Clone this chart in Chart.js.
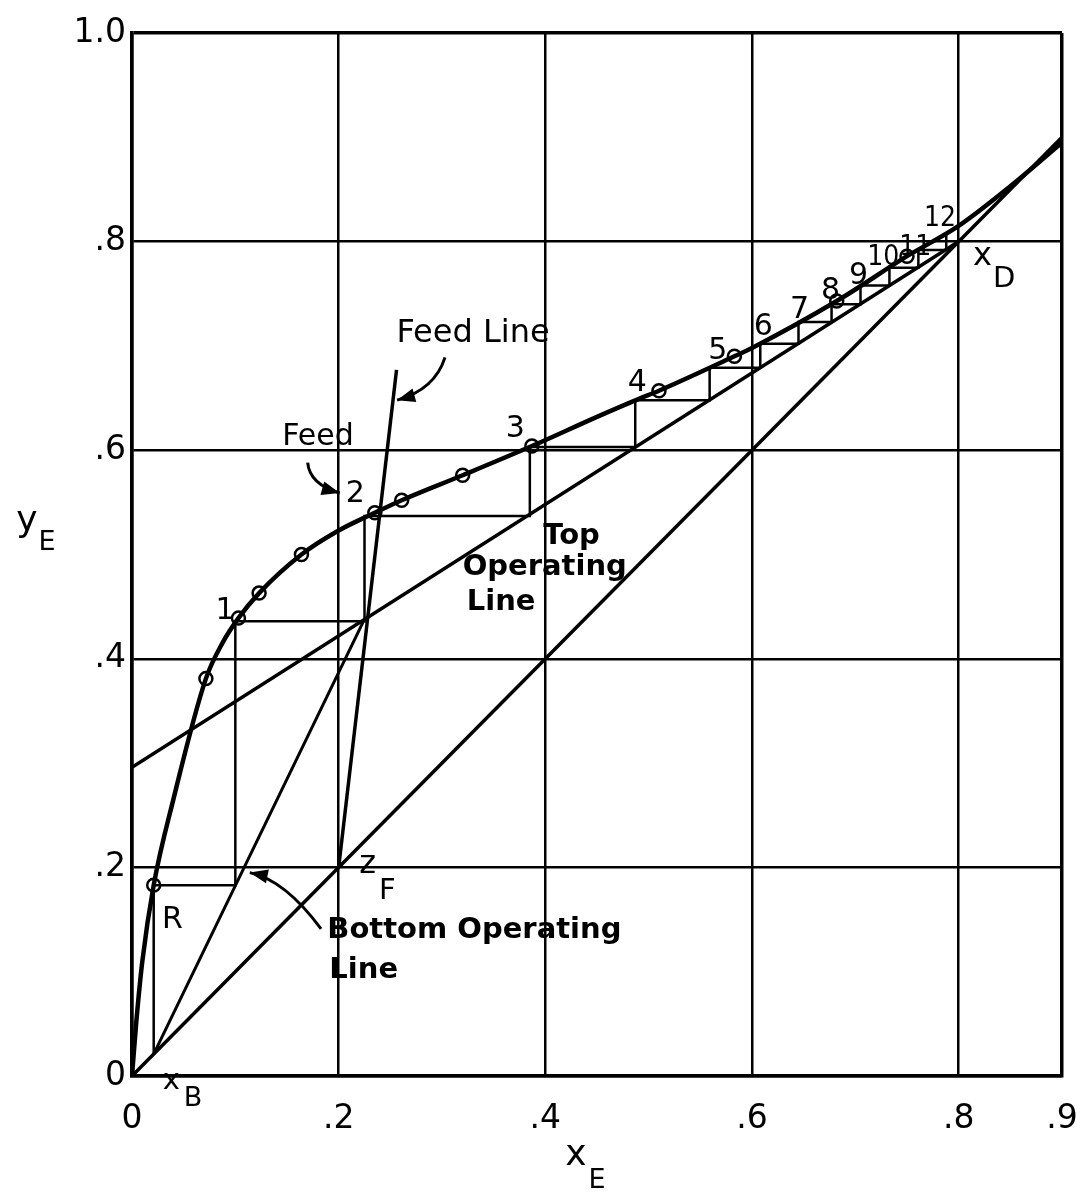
<!DOCTYPE html>
<html>
<head>
<meta charset="utf-8">
<script src="https://cdn.jsdelivr.net/npm/chart.js@4.4.1/dist/chart.umd.min.js"></script>
<style>
  html, body { margin: 0; padding: 0; background: #fff; }
  #wrap { width: 1089px; height: 1204px; position: relative; }
</style>
</head>
<body>
<div id="wrap"><canvas id="chart"></canvas></div>
<script>
// Solvent-free extract composition y_E against raffinate composition x_E

// Equilibrium (distribution) curve
const eqX = [0, 0.004, 0.010, 0.021, 0.040, 0.0715, 0.088, 0.103, 0.123, 0.164, 0.200, 0.235, 0.261, 0.320, 0.387, 0.450, 0.490, 0.510, 0.583, 0.600, 0.682, 0.750, 0.800, 0.850, 0.900];
const eqY = [0, 0.050, 0.110, 0.183, 0.265, 0.381, 0.416, 0.439, 0.463, 0.500, 0.523, 0.540, 0.552, 0.576, 0.604, 0.632, 0.649, 0.657, 0.690, 0.698, 0.743, 0.786, 0.815, 0.853, 0.895];

// Measured tie-line points marked on the curve
const sampleX = [0.021, 0.0715, 0.103, 0.123, 0.164, 0.235, 0.261, 0.320, 0.387, 0.510, 0.583, 0.682, 0.750];
const sampleY = [0.183, 0.381, 0.439, 0.463, 0.500, 0.540, 0.552, 0.576, 0.604, 0.657, 0.690, 0.743, 0.786];

// 45-degree line
const diagX = [0, 0.9];
const diagY = [0, 0.9];

// Enriching-section operating line, ends at x_D
const topOpX = [0, 0.8];
const topOpY = [0.296, 0.8];

// Stripping-section operating line, from x_B to the feed-line intersection
const bottomOpX = [0.021, 0.225];
const bottomOpY = [0.021, 0.438];

// Feed line through z_F
const feedX = [0.200, 0.256];
const feedY = [0.200, 0.677];

// Stage construction: R, then stages 1 to 12
const stepX = [0.021, 0.021, 0.100, 0.100, 0.225, 0.225, 0.385, 0.385, 0.487, 0.487, 0.559, 0.559, 0.608, 0.608, 0.645, 0.645, 0.677, 0.677, 0.705, 0.705, 0.733, 0.733, 0.761, 0.761, 0.788, 0.788];
const stepY = [0.021, 0.183, 0.183, 0.436, 0.436, 0.537, 0.537, 0.603, 0.603, 0.648, 0.648, 0.679, 0.679, 0.702, 0.702, 0.723, 0.723, 0.740, 0.740, 0.758, 0.758, 0.775, 0.775, 0.792, 0.792, 0.808];

// Axis ticks
const xTicks = [0, 0.2, 0.4, 0.6, 0.8, 0.9];
const xTickLabels = ['0', '.2', '.4', '.6', '.8', '.9'];
const yTicks = [0, 0.2, 0.4, 0.6, 0.8, 1.0];
const yTickLabels = ['0', '.2', '.4', '.6', '.8', '1.0'];

const pts = (xs, ys) => xs.map((x, i) => ({ x: x, y: ys[i] }));

// Lettering placed in data coordinates
const notes = [
  { t: 'Feed Line', x: 0.330, y: 0.712, f: 'normal 32px "DejaVu Sans"', a: 'center' },
  { t: 'Feed', x: 0.180, y: 0.612, f: 'normal 30px "DejaVu Sans"', a: 'center' },
  { t: '1', x: 0.090, y: 0.446, f: 'normal 30px "DejaVu Sans"', a: 'center' },
  { t: '2', x: 0.216, y: 0.558, f: 'normal 30px "DejaVu Sans"', a: 'center' },
  { t: '3', x: 0.371, y: 0.620, f: 'normal 30px "DejaVu Sans"', a: 'center' },
  { t: '4', x: 0.489, y: 0.664, f: 'normal 30px "DejaVu Sans"', a: 'center' },
  { t: '5', x: 0.567, y: 0.695, f: 'normal 30px "DejaVu Sans"', a: 'center' },
  { t: '6', x: 0.611, y: 0.718, f: 'normal 30px "DejaVu Sans"', a: 'center' },
  { t: '7', x: 0.646, y: 0.734, f: 'normal 30px "DejaVu Sans"', a: 'center' },
  { t: '8', x: 0.676, y: 0.752, f: 'normal 30px "DejaVu Sans"', a: 'center' },
  { t: '9', x: 0.703, y: 0.767, f: 'normal 30px "DejaVu Sans"', a: 'center' },
  { t: '10', x: 0.727, y: 0.785, f: 'normal 28px "DejaVu Sans Condensed"', a: 'center' },
  { t: '11', x: 0.758, y: 0.794, f: 'normal 28px "DejaVu Sans Condensed"', a: 'center' },
  { t: '12', x: 0.782, y: 0.822, f: 'normal 28px "DejaVu Sans Condensed"', a: 'center' },
  { t: 'x', x: 0.823, y: 0.786, f: 'normal 32px "DejaVu Sans"', a: 'center' },
  { t: 'D', x: 0.844, y: 0.764, f: 'normal 29px "DejaVu Sans"', a: 'center' },
  { t: 'Top', x: 0.398, y: 0.517, f: 'bold 29px "DejaVu Sans"', a: 'left' },
  { t: 'Operating', x: 0.320, y: 0.488, f: 'bold 29px "DejaVu Sans"', a: 'left' },
  { t: 'Line', x: 0.324, y: 0.454, f: 'bold 29px "DejaVu Sans"', a: 'left' },
  { t: 'z', x: 0.228, y: 0.203, f: 'normal 32px "DejaVu Sans"', a: 'center' },
  { t: 'F', x: 0.247, y: 0.177, f: 'normal 29px "DejaVu Sans"', a: 'center' },
  { t: 'R', x: 0.039, y: 0.149, f: 'normal 30px "DejaVu Sans"', a: 'center' },
  { t: 'Bottom Operating', x: 0.189, y: 0.140, f: 'bold 29px "DejaVu Sans"', a: 'left' },
  { t: 'Line', x: 0.191, y: 0.101, f: 'bold 29px "DejaVu Sans"', a: 'left' },
  { t: 'x', x: 0.038, y: -0.005, f: 'normal 29px "DejaVu Sans"', a: 'center' },
  { t: 'B', x: 0.059, y: -0.022, f: 'normal 27px "DejaVu Sans"', a: 'center' }
];

// Curved pointer arrows: start, control, tip
const arrows = [
  { sx: 0.3029, sy: 0.689, cx: 0.293, cy: 0.658, ex: 0.2565, ey: 0.648 },
  { sx: 0.170, sy: 0.588, cx: 0.172, cy: 0.567, ex: 0.201, ey: 0.559 },
  { sx: 0.183, sy: 0.141, cx: 0.148, cy: 0.188, ex: 0.114, ey: 0.195 }
];

const notesPlugin = {
  id: 'notes',
  beforeDraw(chart) {
    const c = chart.ctx;
    c.save();
    c.fillStyle = '#fff';
    c.fillRect(0, 0, chart.width, chart.height);
    c.restore();
  },
  afterDraw(chart) {
    const c = chart.ctx;
    const xs = chart.scales.x, ys = chart.scales.y;
    const X = v => xs.getPixelForValue(v), Y = v => ys.getPixelForValue(v);
    c.save();
    c.fillStyle = '#000';
    c.strokeStyle = '#000';
    c.textBaseline = 'middle';
    notes.forEach(n => {
      c.font = n.f;
      c.textAlign = n.a;
      c.fillText(n.t, X(n.x), Y(n.y));
    });
    c.lineWidth = 3;
    arrows.forEach(a => {
      const sx = X(a.sx), sy = Y(a.sy), cx = X(a.cx), cy = Y(a.cy), ex = X(a.ex), ey = Y(a.ey);
      c.beginPath();
      c.moveTo(sx, sy);
      c.quadraticCurveTo(cx, cy, ex, ey);
      c.stroke();
      const ang = Math.atan2(ey - cy, ex - cx);
      const L = 18, W = 7;
      c.beginPath();
      c.moveTo(ex, ey);
      c.lineTo(ex - L * Math.cos(ang) + W * Math.sin(ang), ey - L * Math.sin(ang) - W * Math.cos(ang));
      c.lineTo(ex - L * Math.cos(ang) - W * Math.sin(ang), ey - L * Math.sin(ang) + W * Math.cos(ang));
      c.closePath();
      c.fill();
    });
    // axis titles
    c.textAlign = 'center';
    c.font = 'normal 36px "DejaVu Sans"';
    c.fillText('y', 27, 522);
    c.fillText('x', 576, 1156);
    c.font = 'normal 27px "DejaVu Sans"';
    c.fillText('E', 47, 543);
    c.fillText('E', 597, 1181);
    c.restore();
  }
};

const lineDs = (data, w) => ({
  data: data, showLine: true, borderColor: '#000', borderWidth: w,
  pointRadius: 0, fill: false, tension: 0
});

new Chart(document.getElementById('chart'), {
  type: 'scatter',
  data: {
    datasets: [
      lineDs(pts(diagX, diagY), 3.5),
      lineDs(pts(topOpX, topOpY), 3.5),
      lineDs(pts(bottomOpX, bottomOpY), 3),
      lineDs(pts(feedX, feedY), 3.5),
      lineDs(pts(stepX, stepY), 2.5),
      Object.assign(lineDs(pts(eqX, eqY), 4.5), { cubicInterpolationMode: 'monotone' }),
      {
        data: pts(sampleX, sampleY), showLine: false,
        pointRadius: 6.5, pointBorderWidth: 2.5,
        pointBackgroundColor: 'rgba(255,255,255,0)', pointBorderColor: '#000'
      }
    ]
  },
  options: {
    responsive: true,
    maintainAspectRatio: false,
    animation: false,
    events: [],
    layout: { padding: { top: 33, right: 27, left: 0, bottom: 0 } },
    plugins: { legend: { display: false }, tooltip: { enabled: false } },
    scales: {
      x: {
        type: 'linear', min: 0, max: 0.9,
        afterBuildTicks: s => { s.ticks = xTicks.map(v => ({ value: v })); },
        afterFit: s => { s.height = 128; s.paddingLeft = 0; s.paddingRight = 0; },
        ticks: {
          color: '#000', padding: 24, maxRotation: 0, autoSkip: false,
          font: { family: 'DejaVu Sans', size: 33 },
          callback: (v) => xTickLabels[xTicks.indexOf(v)]
        },
        grid: {
          color: '#000', drawTicks: false,
          lineWidth: ctx => (ctx.tick && ctx.tick.value === 0.9 ? 3.5 : 2.5)
        },
        border: { display: true, color: '#000', width: 3.5 }
      },
      y: {
        type: 'linear', min: 0, max: 1.0,
        afterBuildTicks: s => { s.ticks = yTicks.map(v => ({ value: v })); },
        afterFit: s => { s.width = 132; s.paddingTop = 0; s.paddingBottom = 0; },
        ticks: {
          color: '#000', padding: 6, autoSkip: false,
          font: { family: 'DejaVu Sans', size: 33 },
          callback: (v) => yTickLabels[yTicks.indexOf(v)]
        },
        grid: {
          color: '#000', drawTicks: false,
          lineWidth: ctx => (ctx.tick && ctx.tick.value === 1.0 ? 3.5 : 2.5)
        },
        border: { display: true, color: '#000', width: 3.5 }
      }
    }
  },
  plugins: [notesPlugin]
});
</script>
</body>
</html>
